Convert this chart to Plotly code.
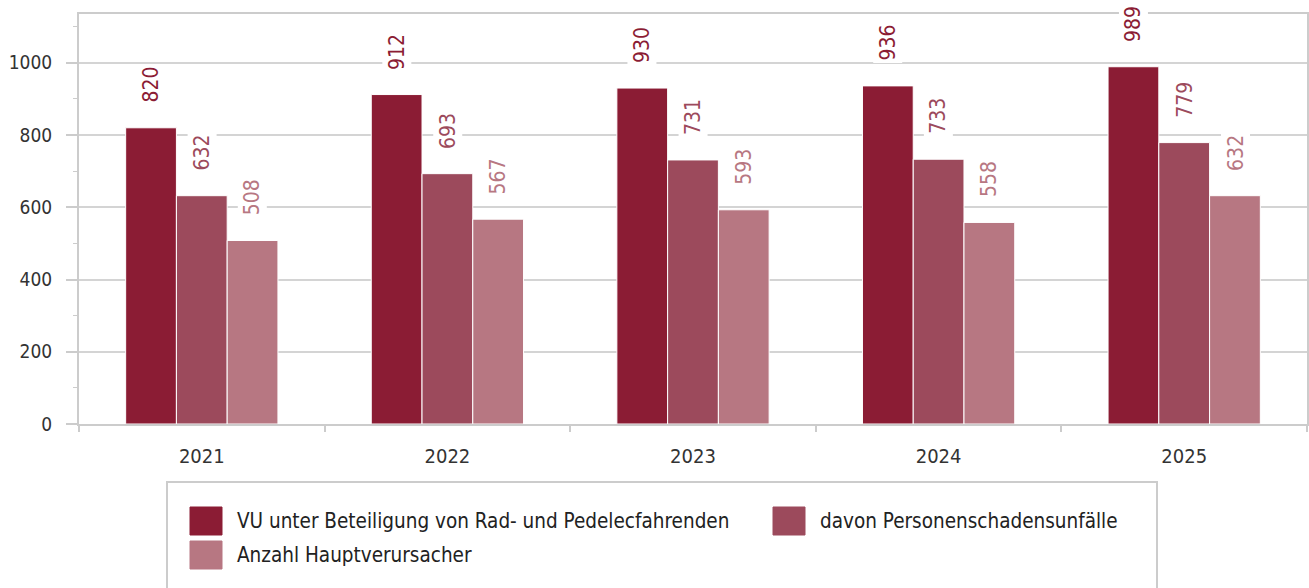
import plotly.graph_objects as go

years = ["2021", "2022", "2023", "2024", "2025"]
series_names = [
    "VU unter Beteiligung von Rad- und Pedelecfahrenden",
    "davon Personenschadensunfälle",
    "Anzahl Hauptverursacher",
]
vu_total = [820, 912, 930, 936, 989]
personenschaden = [632, 693, 731, 733, 779]
hauptverursacher = [508, 567, 593, 558, 632]
y_ticks = [0, 200, 400, 600, 800, 1000]

values = [vu_total, personenschaden, hauptverursacher]
colors = ["#8B1C34", "#9C4A5C", "#B77782"]

W, H = 1309, 588
ML, MR, MT, MB = 79, 2, 14, 164
PW, PH = W - ML - MR, H - MT - MB
FONT = "DejaVu Sans Condensed, DejaVu Sans, sans-serif"

def px_x(x):
    return (x - ML) / PW

def px_y(y):
    return (H - MB - y) / PH

fig = go.Figure()
for name, vals, col in zip(series_names, values, colors):
    fig.add_trace(go.Bar(
        x=years, y=vals, name=name, showlegend=False,
        marker=dict(color=col, line=dict(color="white", width=1)),
    ))

annotations = []
shifts = [-51, 0, 51]
for vals, col, sh in zip(values, colors, shifts):
    for i, v in enumerate(vals):
        annotations.append(dict(
            x=i, y=v, xref="x", yref="y", text=str(v), showarrow=False,
            textangle=-90, xshift=sh, yshift=22, yanchor="bottom", xanchor="center",
            bgcolor="white", borderpad=2,
            font=dict(family=FONT, size=21, color=col),
        ))

# legend (manual)
shapes = [dict(type="rect", xref="paper", yref="paper",
               x0=px_x(167), x1=px_x(1157), y0=px_y(482), y1=px_y(640),
               line=dict(color="#cccccc", width=2), fillcolor="rgba(0,0,0,0)")]
leg_pos = [(190, 521), (773, 521), (190, 555)]
for name, col, (lx, ly) in zip(series_names, colors, leg_pos):
    shapes.append(dict(type="rect", xref="paper", yref="paper",
                       x0=px_x(lx), x1=px_x(lx + 32), y0=px_y(ly - 14), y1=px_y(ly + 14),
                       line=dict(color=col, width=1), fillcolor=col))
    annotations.append(dict(
        x=px_x(lx + 45), y=px_y(ly), xref="paper", yref="paper", text=name,
        showarrow=False, xanchor="left", yanchor="middle",
        font=dict(family=FONT, size=20.5, color="#222222"),
    ))

fig.update_layout(
    width=W, height=H,
    margin=dict(l=ML, r=MR, t=MT, b=MB, pad=0, autoexpand=False),
    paper_bgcolor="white", plot_bgcolor="white",
    barmode="group", bargap=0.38, bargroupgap=0.0,
    font=dict(family=FONT, size=19, color="#333333"),
    annotations=annotations, shapes=shapes,
    xaxis=dict(
        type="category", range=[-0.5, 4.5], automargin=False,
        showline=True, linecolor="#cccccc", linewidth=2, mirror=True,
        ticks="outside", tickson="boundaries", ticklen=6, tickcolor="#cccccc", tickwidth=2,
        ticklabelstandoff=13,
        showgrid=False, tickangle=0, tickfont=dict(family=FONT, size=20, color="#333333"),
    ),
    yaxis=dict(
        range=[0, 1135], tickvals=y_ticks, automargin=False,
        showline=True, linecolor="#cccccc", linewidth=2,
        mirror=True, ticks="outside", ticklen=11, tickcolor="#cccccc", tickwidth=2,
        ticklabelstandoff=10,
        showgrid=True, gridcolor="#d4d4d4", gridwidth=2, zeroline=False,
        tickfont=dict(family=FONT, size=19, color="#333333"),
        minor=dict(dtick=100, ticks="outside", ticklen=4, tickcolor="#cccccc", tickwidth=1, showgrid=False),
    ),
)

fig.write_html("out.html", config={"displayModeBar": False},
               post_script="document.body.style.margin='0';")
